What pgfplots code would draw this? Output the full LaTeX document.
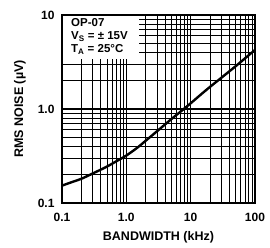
\documentclass[border=0pt]{standalone}
\usepackage{pgfplots}
\pgfplotsset{compat=1.18}
\usepackage{fontspec}
\setmainfont{Liberation Sans}
\begin{document}
\begin{tikzpicture}
\path[use as bounding box] (-62pt,-45pt) rectangle (208pt,203pt);
\begin{axis}[
  at={(0,0)}, anchor=south west,
  scale only axis, width=193pt, height=188pt,
  xmode=log, ymode=log,
  xmin=0.1, xmax=100, ymin=0.1, ymax=10,
  xtick={0.1,1,10,100}, xticklabels={0.1,1.0,10,100},
  ytick={0.1,1,10}, yticklabels={0.1,1.0,10},
  grid=both,
  major grid style={black, line width=1pt},
  minor grid style={black, line width=0.9pt},
  axis line style={black, line width=1.5pt},
  tick style={draw=none},
  tick label style={font=\fontsize{12}{13}\selectfont\bfseries},
  xticklabel style={yshift=-7pt},
  yticklabel style={xshift=-4pt},
  xlabel={BANDWIDTH (kHz)},
  ylabel={RMS NOISE (µV)},
  label style={font=\fontsize{12.5}{14}\selectfont\bfseries},
  xlabel style={at={(axis description cs:0.5,-0.181)}, anchor=center},
  ylabel style={at={(axis description cs:-0.2176,0.5)}, anchor=center},
]
\addplot[black, line width=2.4pt, smooth] coordinates {
 (0.1,0.153) (0.15,0.169) (0.2,0.181) (0.3,0.206) (0.5,0.244) (0.7,0.278)
 (1,0.32) (1.5,0.39) (2,0.46) (3,0.58) (5,0.78) (7,0.94) (10,1.15)
 (15,1.46) (20,1.72) (30,2.15) (50,2.85) (70,3.46) (100,4.25)
};
\fill[white] ([xshift=0.8pt,yshift=-0.8pt]rel axis cs:0,1) rectangle ([yshift=-44pt]rel axis cs:0.4,1);
\node[anchor=north west, inner sep=0pt, align=left,
      font=\fontsize{11.5}{13}\selectfont\bfseries]
  at ([xshift=9pt,yshift=-3pt]rel axis cs:0,1)
  {OP-07\\V\textsubscript{S} = ± 15V\\T\textsubscript{A} = 25°C};
\end{axis}
\end{tikzpicture}
\end{document}
